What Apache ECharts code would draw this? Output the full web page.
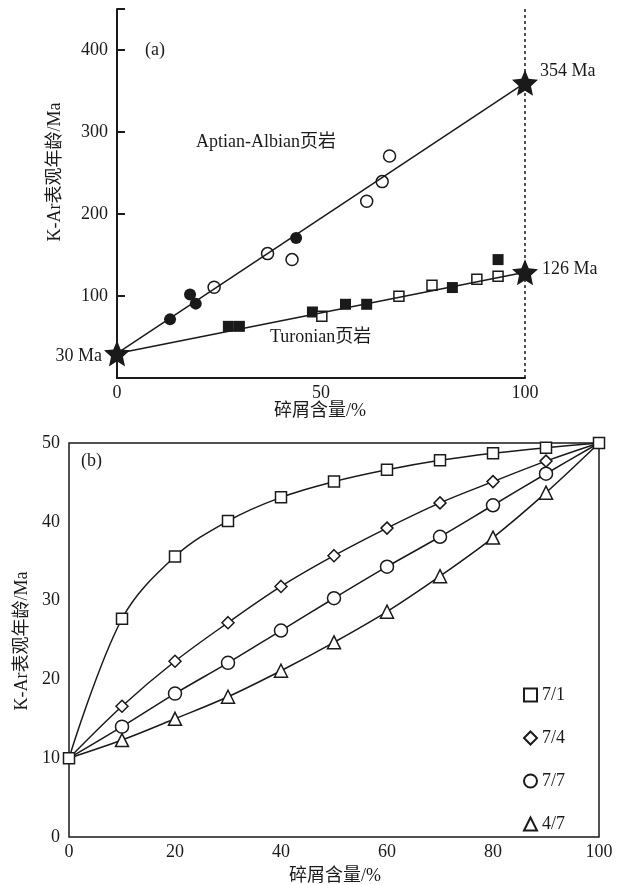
<!DOCTYPE html>
<html>
<head>
<meta charset="utf-8">
<script src="https://cdn.jsdelivr.net/npm/echarts@6/dist/echarts.min.js"></script>
<style>
html,body{margin:0;padding:0;background:#fff}
#box{width:627px;height:885px}
</style>
</head>
<body>
<div id="box"></div>
<script>
// (a) 碎屑含量 - 年龄
var aptFilled = [[13, 71.5], [17.9, 101.7], [19.3, 90.7], [43.9, 170.8]];
var aptOpen = [[23.8, 110.6], [36.9, 151.7], [42.9, 144.4], [61.2, 215.5], [65, 239.5], [66.8, 270.7]];
var turFilled = [[27.3, 63], [30, 63], [47.9, 80.5], [56, 89.9], [61.2, 89.9], [82.2, 110.3], [93.4, 144.4]];
var turOpen = [[50.2, 75.2], [69.1, 99.6], [77.2, 113], [88.2, 120.4], [93.4, 124]];
var aptLine = [[0, 30], [100, 360]];
var turLine = [[0, 30], [100, 129]];
var endMembers = [[0, 30], [100, 360], [100, 129]];
var endLabels = ['30 Ma', '354 Ma', '126 Ma'];

// (b) 模拟曲线
var fragX = [0, 10, 20, 30, 40, 50, 60, 70, 80, 90, 100];
var s71 = [10, 27.7, 35.6, 40.1, 43.1, 45.1, 46.6, 47.8, 48.7, 49.4, 50];
var s74 = [10, 16.6, 22.3, 27.2, 31.8, 35.7, 39.2, 42.4, 45.1, 47.7, 50];
var s77 = [10, 14.0, 18.2, 22.1, 26.2, 30.3, 34.3, 38.1, 42.1, 46.1, 50];
var s47 = [10, 12.3, 15.0, 17.8, 21.1, 24.7, 28.6, 33.1, 38.0, 43.7, 50];

var ink = '#1a1a1a';
var font = '"Liberation Serif", "Noto Sans CJK SC", serif';

// 五角星符号（内外半径比 0.46）
function starPath() {
  var s = 'path://';
  for (var k = 0; k < 10; k++) {
    var r = k % 2 ? 23 : 50;
    var a = -Math.PI / 2 + k * Math.PI / 5;
    s += (k ? 'L' : 'M') + (50 + r * Math.cos(a)).toFixed(1) + ',' + (50 + r * Math.sin(a)).toFixed(1) + ' ';
  }
  return s + 'Z';
}
var star = starPath();

function pairs(ys, hideEnds) {
  var out = [];
  for (var i = 0; i < fragX.length; i++) {
    var p = { value: [fragX[i], ys[i]] };
    if (hideEnds && (i == 0 || i == fragX.length - 1)) p.symbol = 'none';
    out.push(p);
  }
  return out;
}

var myChart = echarts.init(document.getElementById('box'));

var hollow = { color: '#fff', borderColor: ink, borderWidth: 1.5, opacity: 1 };
var solid = { color: ink, opacity: 1 };

function curve(name, sym, size, ys, hideEnds) {
  return {
    name: name, type: 'line', xAxisIndex: 1, yAxisIndex: 1,
    data: pairs(ys, hideEnds), smooth: 0.35,
    symbol: sym, symbolSize: size, showAllSymbol: true,
    lineStyle: { color: ink, width: 1.5 },
    itemStyle: hollow
  };
}

var starData = [];
for (var i = 0; i < endMembers.length; i++) {
  starData.push({ value: endMembers[i], label: { formatter: endLabels[i] } });
}
starData[0].label.position = 'left';
starData[0].label.distance = 0;
starData[0].label.offset = [-2, 3];
starData[1].label.position = 'right';
starData[1].label.distance = 2;
starData[1].label.offset = [0, -12];
starData[2].label.position = 'right';
starData[2].label.distance = 4;
starData[2].label.offset = [0, -3];

option = {
  animation: false,
  backgroundColor: '#fff',
  textStyle: { fontFamily: font },
  grid: [
    { left: 117, top: 9, width: 408, height: 369 },
    { left: 69, top: 443, width: 530, height: 394, show: true, borderColor: ink, borderWidth: 1.5 }
  ],
  xAxis: [
    {
      gridIndex: 0, type: 'value', min: 0, max: 100, interval: 50,
      axisLine: { lineStyle: { color: ink, width: 2 } },
      axisTick: { show: false }, splitLine: { show: false },
      axisLabel: { color: ink, fontSize: 18, fontFamily: font, margin: 6 }
    },
    {
      gridIndex: 1, type: 'value', min: 0, max: 100, interval: 20,
      axisLine: { show: false }, axisTick: { show: false }, splitLine: { show: false },
      axisLabel: { color: ink, fontSize: 18, fontFamily: font, margin: 6 }
    }
  ],
  yAxis: [
    {
      gridIndex: 0, type: 'value', min: 0, max: 450, interval: 100,
      axisLine: { lineStyle: { color: ink, width: 2 } },
      axisTick: { inside: true, length: 8, lineStyle: { color: ink, width: 2 } },
      splitLine: { show: false },
      axisLabel: {
        color: ink, fontSize: 18, fontFamily: font, margin: 9,
        formatter: function (v) { return (v == 0 || v > 400) ? '' : v; }
      }
    },
    {
      gridIndex: 1, type: 'value', min: 0, max: 50, interval: 10,
      axisLine: { show: false }, axisTick: { show: false }, splitLine: { show: false },
      axisLabel: { color: ink, fontSize: 18, fontFamily: font, margin: 9 }
    }
  ],
  legend: {
    orient: 'vertical', left: 518, top: 681,
    itemWidth: 13, itemHeight: 13, itemGap: 25,
    textStyle: { color: ink, fontSize: 18, fontFamily: font },
    data: [
      { name: '7/1', icon: 'rect' },
      { name: '7/4', icon: 'diamond' },
      { name: '7/7', icon: 'circle' },
      { name: '4/7', icon: 'triangle' }
    ]
  },
  graphic: [
    { type: 'text', left: 145, top: 41, style: { text: '(a)', font: '18px ' + font, fill: ink } },
    { type: 'text', left: 196, top: 133, style: { text: 'Aptian-Albian页岩', font: '18px ' + font, fill: ink } },
    { type: 'text', left: 270, top: 328, style: { text: 'Turonian页岩', font: '18px ' + font, fill: ink } },
    { type: 'text', left: 81, top: 452, style: { text: '(b)', font: '18px ' + font, fill: ink } },
    { type: 'text', x: 55, y: 172, rotation: Math.PI / 2,
      style: { text: 'K-Ar表观年龄/Ma', font: '18px ' + font, fill: ink, align: 'center', verticalAlign: 'middle' } },
    { type: 'text', x: 22, y: 641, rotation: Math.PI / 2,
      style: { text: 'K-Ar表观年龄/Ma', font: '18px ' + font, fill: ink, align: 'center', verticalAlign: 'middle' } },
    { type: 'text', x: 320, y: 411,
      style: { text: '碎屑含量/%', font: '18px ' + font, fill: ink, align: 'center', verticalAlign: 'middle' } },
    { type: 'text', x: 335, y: 876,
      style: { text: '碎屑含量/%', font: '18px ' + font, fill: ink, align: 'center', verticalAlign: 'middle' } }
  ],
  series: [
    {
      type: 'line', data: aptLine, symbol: 'none',
      lineStyle: { color: ink, width: 1.5 },
      markLine: {
        silent: true, symbol: 'none', label: { show: false },
        lineStyle: { color: ink, type: [3, 3], width: 1.5 },
        data: [{ xAxis: 100 }]
      }
    },
    { type: 'line', data: turLine, symbol: 'none', lineStyle: { color: ink, width: 1.5 } },
    { type: 'scatter', data: aptFilled, symbol: 'circle', symbolSize: 12, itemStyle: solid },
    { type: 'scatter', data: aptOpen, symbol: 'circle', symbolSize: 12, itemStyle: hollow },
    { type: 'scatter', data: turFilled, symbol: 'rect', symbolSize: 11, itemStyle: solid },
    { type: 'scatter', data: turOpen, symbol: 'rect', symbolSize: 10, itemStyle: hollow },
    {
      type: 'scatter', data: starData, symbol: star, symbolSize: 26, z: 5,
      itemStyle: solid,
      label: { show: true, color: ink, fontSize: 18, fontFamily: font }
    },
    curve('7/1', 'rect', 11, s71, false),
    curve('7/4', 'diamond', 12, s74, true),
    curve('7/7', 'circle', 13, s77, true),
    curve('4/7', 'triangle', 13, s47, true)
  ]
};
myChart.setOption(option);
</script>
</body>
</html>
